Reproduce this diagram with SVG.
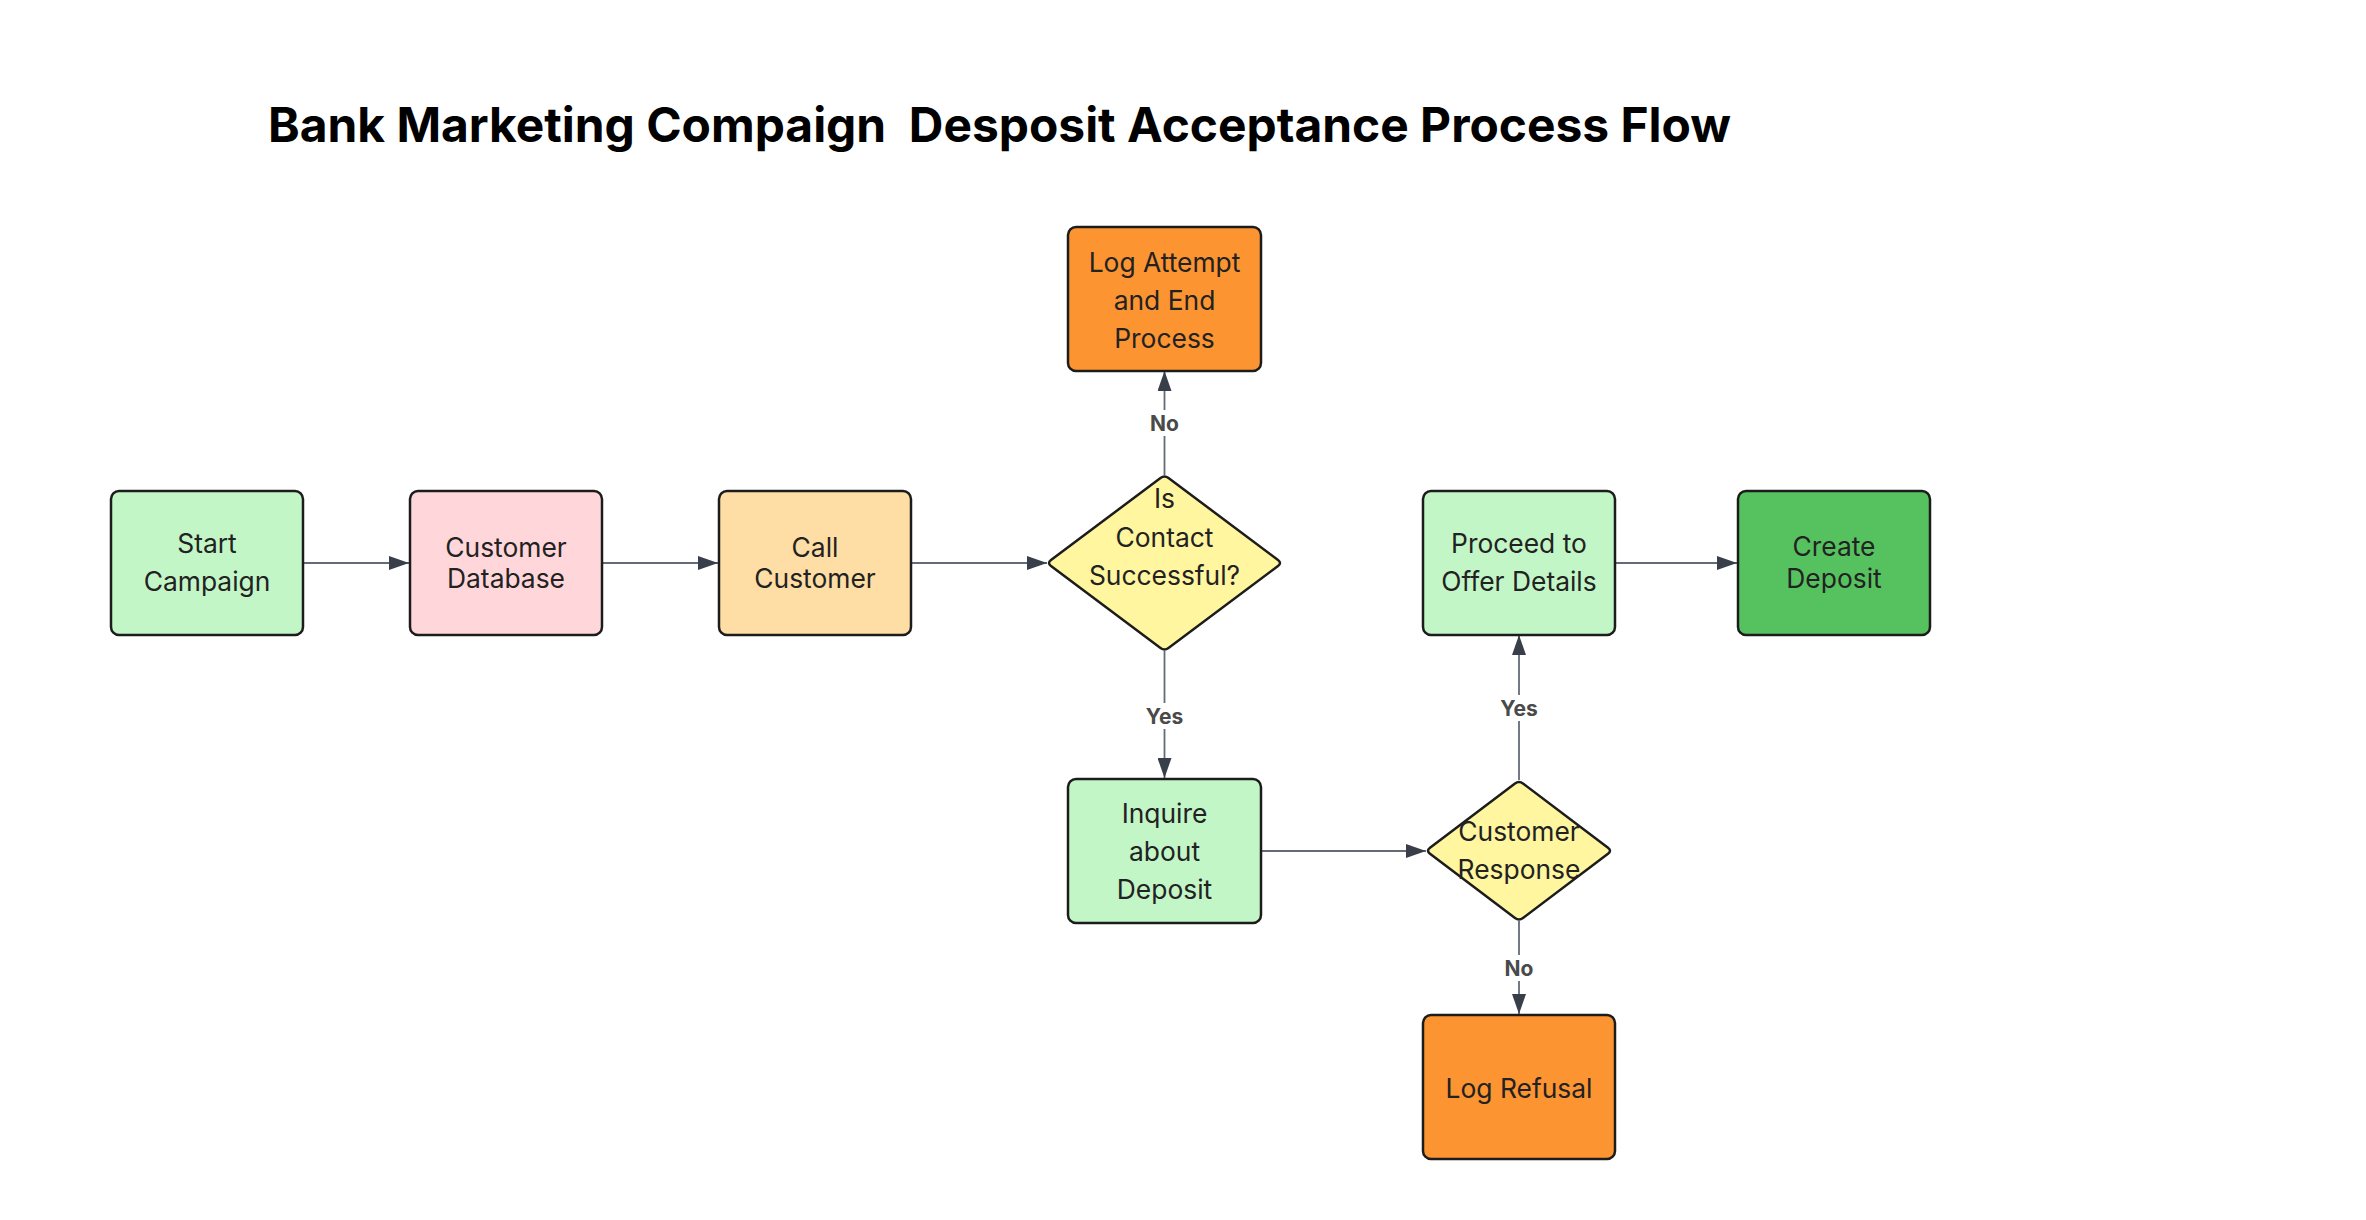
<svg xmlns="http://www.w3.org/2000/svg" width="2366" height="1220" viewBox="0 0 2366 1220">
<style>
.node{stroke:#1c1c1c;stroke-width:2.5}
.t{font-family:Inter,"Noto Sans","Liberation Sans",sans-serif;font-size:26.4px;fill:#222;text-anchor:middle}
.title{font-family:Inter,"Noto Sans","Liberation Sans",sans-serif;font-size:48px;font-weight:700;fill:#000;white-space:pre}
.edge{stroke:#646b78;stroke-width:1.8;fill:none}
.lbl{font-family:Inter,"Noto Sans","Liberation Sans",sans-serif;font-size:21px;font-weight:700;fill:#4a4a4a;text-anchor:middle}
.lblbg{fill:#fff}
.g1{fill:#c2f6c7}.pk{fill:#ffd7da}.pe{fill:#ffdea6}.yl{fill:#fff69f}.or{fill:#fc9432}.dg{fill:#56c25f}
</style>
<defs>
<marker id="arr" viewBox="0 0 20 14" refX="20" refY="7" markerWidth="20" markerHeight="14" markerUnits="userSpaceOnUse" orient="auto">
<path d="M0,0 L20,7 L0,14 z" fill="#383f4b"/>
</marker>
</defs>
<rect width="2366" height="1220" fill="#fff"/>
<text class="title" x="268" y="142" textLength="1463" lengthAdjust="spacingAndGlyphs" xml:space="preserve">Bank Marketing Compaign  Desposit Acceptance Process Flow</text>

<g id="connectors">
<line class="edge" x1="303" y1="563" x2="409" y2="563" marker-end="url(#arr)"/>
<line class="edge" x1="602" y1="563" x2="718" y2="563" marker-end="url(#arr)"/>
<line class="edge" x1="911" y1="563" x2="1047" y2="563" marker-end="url(#arr)"/>
<line class="edge" x1="1164.5" y1="475" x2="1164.5" y2="371" marker-end="url(#arr)"/>
<line class="edge" x1="1164.5" y1="651" x2="1164.5" y2="778" marker-end="url(#arr)"/>
<line class="edge" x1="1261" y1="851" x2="1426" y2="851" marker-end="url(#arr)"/>
<line class="edge" x1="1519" y1="780" x2="1519" y2="635" marker-end="url(#arr)"/>
<line class="edge" x1="1615" y1="563" x2="1737" y2="563" marker-end="url(#arr)"/>
<line class="edge" x1="1519" y1="921" x2="1519" y2="1014" marker-end="url(#arr)"/>
<rect class="lblbg" x="1148" y="410" width="33" height="26"/>
<text class="lbl" x="1164.5" y="431">No</text>
<rect class="lblbg" x="1145" y="703" width="40" height="26"/>
<text class="lbl" x="1164.5" y="724">Yes</text>
<rect class="lblbg" x="1499" y="695" width="40" height="26"/>
<text class="lbl" x="1519" y="716">Yes</text>
<rect class="lblbg" x="1502" y="955" width="33" height="26"/>
<text class="lbl" x="1519" y="976">No</text>
</g>

<g id="start">
<rect class="node g1" x="111" y="491" width="192" height="144" rx="8"/>
<text class="t" x="207" y="553">Start</text>
<text class="t" x="207" y="591">Campaign</text>
</g>
<g id="customer-database">
<rect class="node pk" x="410" y="491" width="192" height="144" rx="8"/>
<text class="t" x="506" y="557">Customer</text>
<text class="t" x="506" y="588">Database</text>
</g>
<g id="call-customer">
<rect class="node pe" x="719" y="491" width="192" height="144" rx="8"/>
<text class="t" x="815" y="557">Call</text>
<text class="t" x="815" y="588">Customer</text>
</g>
<g id="contact-successful">
<path class="node yl" d="M1160.5,478 Q1164.5,475 1168.5,478 L1278,560 Q1282,563 1278,566 L1168.5,648 Q1164.5,651 1160.5,648 L1051,566 Q1047,563 1051,560 Z"/>
<text class="t" x="1164.5" y="508">Is</text>
<text class="t" x="1164.5" y="547">Contact</text>
<text class="t" x="1164.5" y="585">Successful?</text>
</g>
<g id="log-attempt">
<rect class="node or" x="1068" y="227" width="193" height="144" rx="8"/>
<text class="t" x="1164.5" y="272">Log Attempt</text>
<text class="t" x="1164.5" y="310">and End</text>
<text class="t" x="1164.5" y="348">Process</text>
</g>
<g id="inquire">
<rect class="node g1" x="1068" y="779" width="193" height="144" rx="8"/>
<text class="t" x="1164.5" y="823">Inquire</text>
<text class="t" x="1164.5" y="861">about</text>
<text class="t" x="1164.5" y="899">Deposit</text>
</g>
<g id="customer-response">
<path class="node yl" d="M1515,783.5 Q1519,780.5 1523,783.5 L1608,847.7 Q1612,850.7 1608,853.7 L1523,918 Q1519,921 1515,918 L1430,853.7 Q1426,850.7 1430,847.7 Z"/>
<text class="t" x="1519" y="841">Customer</text>
<text class="t" x="1519" y="879">Response</text>
</g>
<g id="proceed">
<rect class="node g1" x="1423" y="491" width="192" height="144" rx="8"/>
<text class="t" x="1519" y="553">Proceed to</text>
<text class="t" x="1519" y="591">Offer Details</text>
</g>
<g id="create-deposit">
<rect class="node dg" x="1738" y="491" width="192" height="144" rx="8"/>
<text class="t" x="1834" y="556">Create</text>
<text class="t" x="1834" y="588">Deposit</text>
</g>
<g id="log-refusal">
<rect class="node or" x="1423" y="1015" width="192" height="144" rx="8"/>
<text class="t" x="1519" y="1098">Log Refusal</text>
</g>
</svg>
